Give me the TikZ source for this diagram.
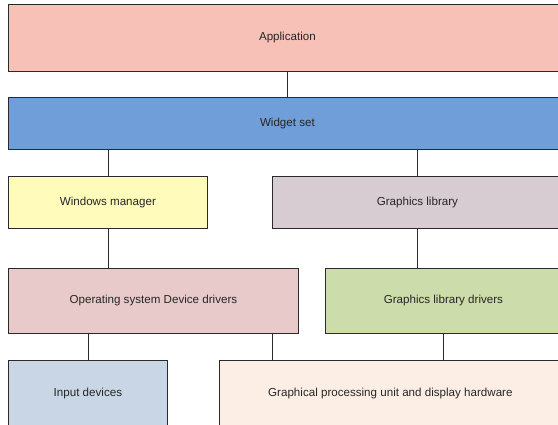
\documentclass[tikz,border=0pt]{standalone}
\usepackage{fontspec}
\setmainfont{Liberation Sans}
\definecolor{cApp}{HTML}{F8C1B8}
\definecolor{cWidget}{HTML}{6F9ED8}
\definecolor{cWm}{HTML}{FFFCBB}
\definecolor{cGl}{HTML}{D6CCD2}
\definecolor{cOs}{HTML}{E9CACA}
\definecolor{cGld}{HTML}{CCDCAA}
\definecolor{cIn}{HTML}{C8D6E6}
\definecolor{cGpu}{HTML}{FCEEE4}
\definecolor{edge}{HTML}{2A2A2A}
\begin{document}
\begin{tikzpicture}[x=1pt,y=-1pt,
  layer/.style={draw=edge, line width=0.8pt, inner sep=0pt, anchor=north west,
    font=\fontsize{11.6}{14}\selectfont, text=black!85},
  link/.style={draw=edge, line width=0.8pt}]
  \useasboundingbox (0,0) rectangle (558,425);
  \clip (0,0) rectangle (558,425);
  % stack of software layers, top to bottom
  \node[layer, fill=cApp, minimum width=558pt, minimum height=67pt] (app) at (8,4) {Application};
  \node[layer, fill=cWidget, minimum width=558pt, minimum height=52pt] (widget) at (8,97) {Widget set};
  \node[layer, fill=cWm, minimum width=199pt, minimum height=52pt] (wm) at (8,176) {Windows manager};
  \node[layer, fill=cGl, minimum width=290pt, minimum height=52pt] (gl) at (272,176) {Graphics library};
  \node[layer, fill=cOs, minimum width=290pt, minimum height=65pt] (os) at (8,268) {Operating system Device drivers};
  \node[layer, fill=cGld, minimum width=236pt, minimum height=65pt] (gld) at (325,268) {Graphics library drivers};
  % the bottom layer runs on past the lower edge
  \node[layer, fill=cIn, minimum width=159pt, minimum height=84pt] (in) at (8,360) {\raisebox{20pt}{Input devices}};
  \node[layer, fill=cGpu, minimum width=342pt, minimum height=84pt] (gpu) at (219,360) {\raisebox{20pt}{Graphical processing unit and display hardware}};
  % connections between layers
  \draw[link] (app.south) -- (widget.north);
  \draw[link] (wm.north) -- (wm.north |- widget.south);
  \draw[link] (gl.north) -- (gl.north |- widget.south);
  \draw[link] (wm.south) -- (wm.south |- os.north);
  \draw[link] (gl.south) -- (gl.south |- gld.north);
  \draw[link] (in.north) -- (in.north |- os.south);
  \coordinate (osgpu) at ([xshift=-26pt]os.south east);
  \draw[link] (osgpu) -- (osgpu |- gpu.north);
  \draw[link] (gld.south) -- (gld.south |- gpu.north);
\end{tikzpicture}
\end{document}
